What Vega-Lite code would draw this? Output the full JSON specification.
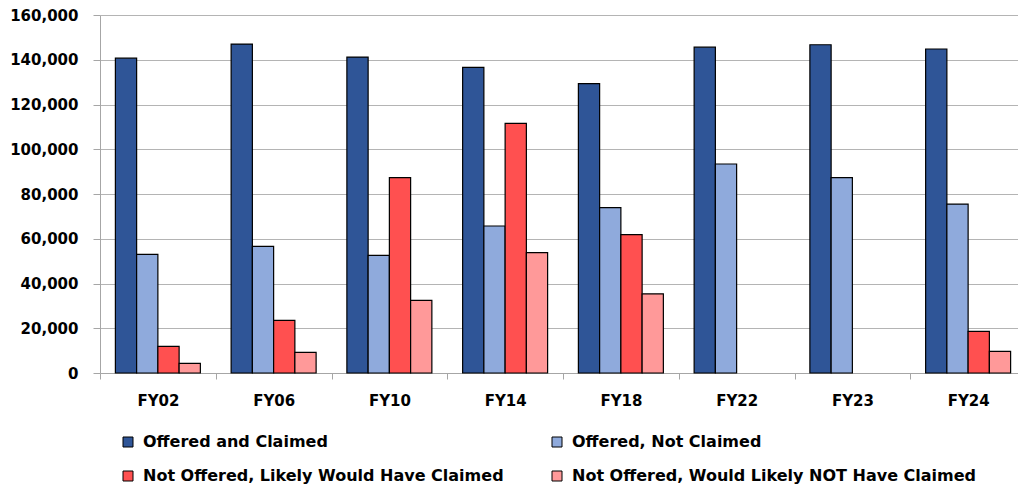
{
  "$schema": "https://vega.github.io/schema/vega-lite/v6.json",
  "width": 918,
  "height": 358,
  "autosize": "none",
  "padding": {"left": 100, "top": 15, "right": 0, "bottom": 113},
  "background": "white",
  "config": {"view": {"stroke": null}, "font": "DejaVu Sans"},
  "data": {
    "values": [
      {"fy": "FY02", "series": "Offered and Claimed", "value": 140700},
      {"fy": "FY02", "series": "Offered, Not Claimed", "value": 53000},
      {"fy": "FY02", "series": "Not Offered, Likely Would Have Claimed", "value": 11900},
      {"fy": "FY02", "series": "Not Offered, Would Likely NOT Have Claimed", "value": 4300},
      {"fy": "FY06", "series": "Offered and Claimed", "value": 147000},
      {"fy": "FY06", "series": "Offered, Not Claimed", "value": 56600},
      {"fy": "FY06", "series": "Not Offered, Likely Would Have Claimed", "value": 23500},
      {"fy": "FY06", "series": "Not Offered, Would Likely NOT Have Claimed", "value": 9200},
      {"fy": "FY10", "series": "Offered and Claimed", "value": 141200},
      {"fy": "FY10", "series": "Offered, Not Claimed", "value": 52600},
      {"fy": "FY10", "series": "Not Offered, Likely Would Have Claimed", "value": 87300},
      {"fy": "FY10", "series": "Not Offered, Would Likely NOT Have Claimed", "value": 32500},
      {"fy": "FY14", "series": "Offered and Claimed", "value": 136600},
      {"fy": "FY14", "series": "Offered, Not Claimed", "value": 65700},
      {"fy": "FY14", "series": "Not Offered, Likely Would Have Claimed", "value": 111600},
      {"fy": "FY14", "series": "Not Offered, Would Likely NOT Have Claimed", "value": 53800},
      {"fy": "FY18", "series": "Offered and Claimed", "value": 129300},
      {"fy": "FY18", "series": "Offered, Not Claimed", "value": 73900},
      {"fy": "FY18", "series": "Not Offered, Likely Would Have Claimed", "value": 61800},
      {"fy": "FY18", "series": "Not Offered, Would Likely NOT Have Claimed", "value": 35400},
      {"fy": "FY22", "series": "Offered and Claimed", "value": 145600},
      {"fy": "FY22", "series": "Offered, Not Claimed", "value": 93400},
      {"fy": "FY23", "series": "Offered and Claimed", "value": 146700},
      {"fy": "FY23", "series": "Offered, Not Claimed", "value": 87300},
      {"fy": "FY24", "series": "Offered and Claimed", "value": 144800},
      {"fy": "FY24", "series": "Offered, Not Claimed", "value": 75500},
      {"fy": "FY24", "series": "Not Offered, Likely Would Have Claimed", "value": 18600},
      {"fy": "FY24", "series": "Not Offered, Would Likely NOT Have Claimed", "value": 9700}
    ]
  },
  "mark": {"type": "bar", "stroke": "black", "strokeWidth": 1.2},
  "encoding": {
    "x": {
      "field": "fy",
      "type": "nominal",
      "sort": ["FY02", "FY06", "FY10", "FY14", "FY18", "FY22", "FY23", "FY24"],
      "scale": {"range": [0, 926], "paddingInner": 0, "paddingOuter": 0},
      "axis": {
        "title": null,
        "labelAngle": 0,
        "tickBand": "extent",
        "tickSize": 6,
        "tickColor": "#A6A6A6",
        "domainColor": "#A6A6A6",
        "labelPadding": 14,
        "labelFontSize": 15,
        "labelFontWeight": "bold",
        "labelColor": "black"
      }
    },
    "xOffset": {
      "field": "series",
      "type": "nominal",
      "scale": {
        "domain": ["Offered and Claimed", "Offered, Not Claimed", "Not Offered, Likely Would Have Claimed", "Not Offered, Would Likely NOT Have Claimed"],
        "paddingInner": 0,
        "paddingOuter": 0.724
      }
    },
    "y": {
      "field": "value",
      "type": "quantitative",
      "scale": {"domain": [0, 160000], "nice": false},
      "axis": {
        "title": null,
        "values": [0, 20000, 40000, 60000, 80000, 100000, 120000, 140000, 160000],
        "format": ",.0f",
        "tickSize": 7,
        "tickColor": "#A6A6A6",
        "domainColor": "#A6A6A6",
        "gridColor": "#B4B4B4",
        "labelPadding": 15,
        "labelFontSize": 15,
        "labelFontWeight": "bold",
        "labelColor": "black"
      }
    },
    "color": {
      "field": "series",
      "type": "nominal",
      "scale": {
        "domain": ["Offered and Claimed", "Offered, Not Claimed", "Not Offered, Likely Would Have Claimed", "Not Offered, Would Likely NOT Have Claimed"],
        "range": ["#2F5597", "#8FAADC", "#FF5050", "#FF9999"]
      },
      "legend": {
        "orient": "none",
        "direction": "horizontal",
        "legendX": 20,
        "legendY": 419,
        "columns": 2,
        "columnPadding": 45,
        "rowPadding": 18,
        "title": null,
        "symbolType": "square",
        "symbolSize": 100,
        "symbolStrokeColor": "black",
        "symbolStrokeWidth": 1,
        "symbolOpacity": 1,
        "labelOffset": 7,
        "labelFontSize": 16,
        "labelFontWeight": "bold",
        "labelColor": "black",
        "labelLimit": 600
      }
    }
  }
}
